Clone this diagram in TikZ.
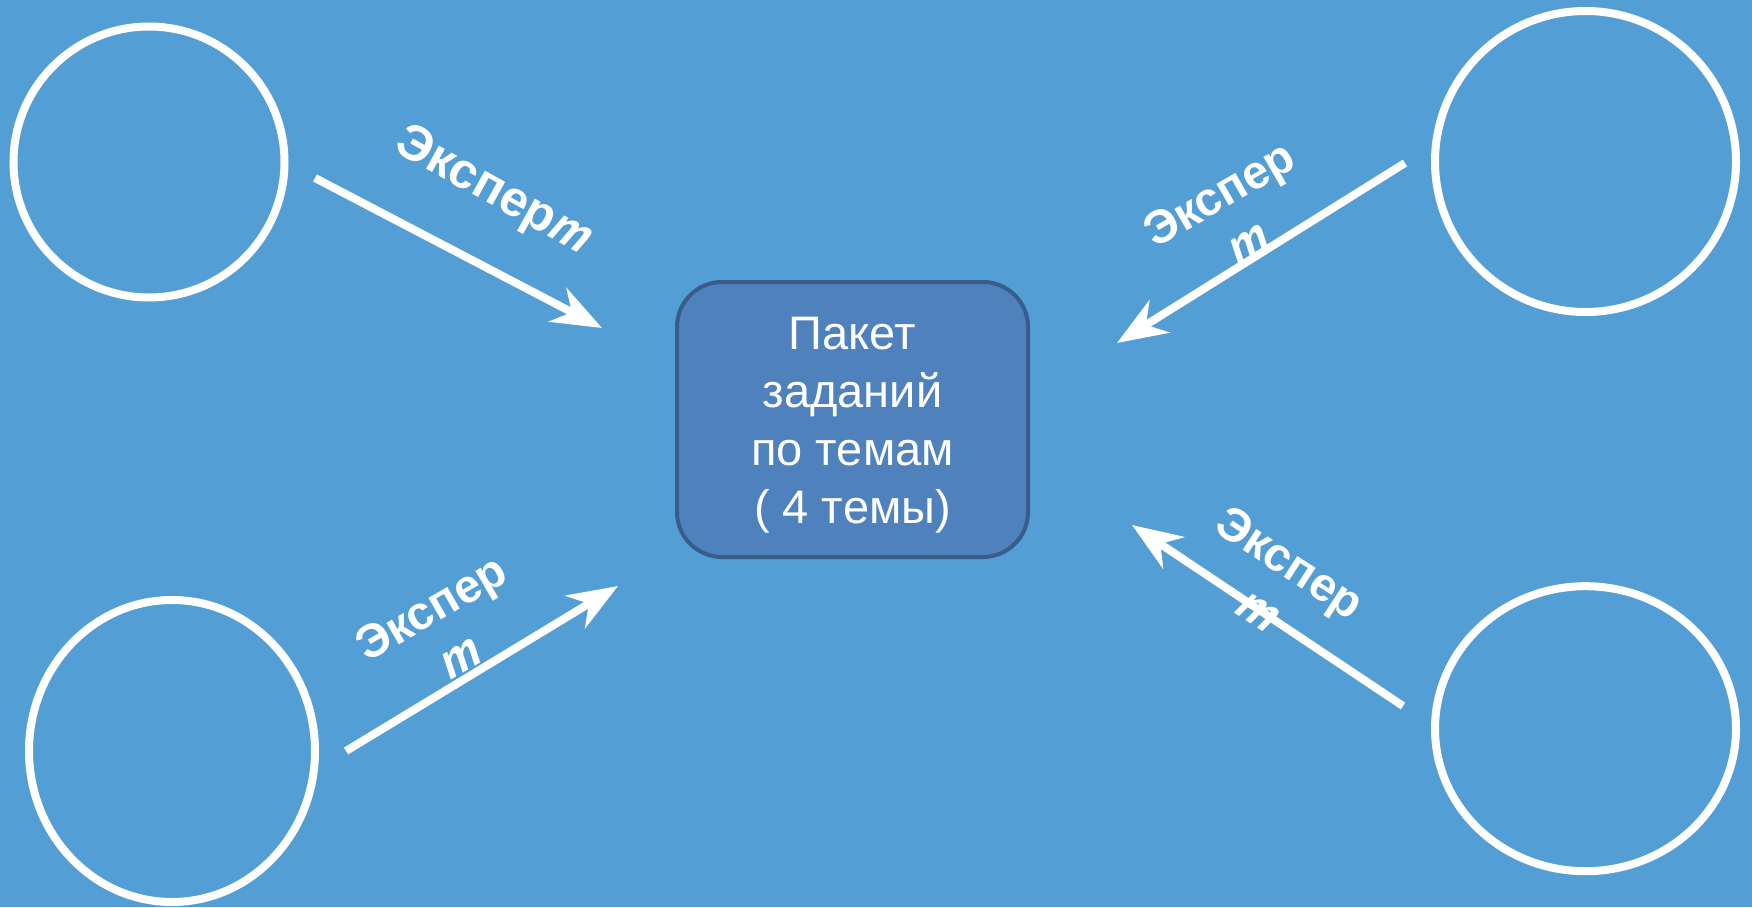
\documentclass[tikz,border=0pt]{standalone}
\usepackage{fontspec}
\setmainfont{Liberation Sans}
\newfontfamily\ptsans{PT Sans}
\usetikzlibrary{arrows.meta,shapes.geometric}
\definecolor{bgblue}{RGB}{83,158,213}
\definecolor{boxfill}{RGB}{79,129,189}
\definecolor{boxline}{RGB}{56,93,138}
\newcommand{\italt}{{\ptsans\bfseries\itshape\fontsize{52pt}{57pt}\selectfont т}}
\tikzset{
  ring/.style={ellipse, draw=white, line width=8pt, inner sep=0pt, outer sep=0pt},
  taskbox/.style={rectangle, rounded corners=45pt, draw=boxline, fill=boxfill, line width=4pt,
    minimum width=351pt, minimum height=275pt, inner sep=0pt},
  boxtext/.style={text=white, align=center, inner sep=0pt,
    font=\fontsize{47pt}{58pt}\selectfont},
  conn/.style={white, line width=8pt, -{Stealth[length=50pt, width=38pt, inset=16pt]}},
  lbl/.style={text=white, align=center, inner sep=0pt, font=\fontsize{47pt}{57pt}\selectfont\bfseries}
}
\begin{document}
\begin{tikzpicture}[x=1pt, y=-1pt]
\fill[bgblue] (0,0) rectangle (1752,907);
\useasboundingbox (0,0) rectangle (1752,907);

\node[ring, minimum width=271pt, minimum height=271pt] (tl) at (149,162) {};
\node[ring, minimum width=286pt, minimum height=302pt] (bl) at (172,751) {};
\node[ring, minimum width=301pt, minimum height=301pt] (tr) at (1585.5,161.5) {};
\node[ring, minimum width=301pt, minimum height=285pt] (br) at (1585.5,728.7) {};

\node[taskbox] (box) at (852.5,419.5) {};
\node[boxtext] (boxt) at (852.5,425) {Пакет\\заданий\\ по темам\\( 4 темы)};

\coordinate (a1s) at (315,178);  \coordinate (a1e) at (602,328);
\coordinate (a2s) at (1405,163); \coordinate (a2e) at (1117,343);
\coordinate (a3s) at (1403,706); \coordinate (a3e) at (1132,525);
\coordinate (a4s) at (346,751);  \coordinate (a4e) at (618,586);

\draw[conn] (a1s) -- (a1e);
\draw[conn] (a2s) -- (a2e);
\draw[conn] (a3s) -- (a3e);
\draw[conn] (a4s) -- (a4e);

\node[lbl, rotate=-29, font=\fontsize{50pt}{57pt}\selectfont\bfseries] (l1) at (493,192) {Экспер\italt};
\node[lbl, rotate=30] (l2) at (1233,218) {Экспер\\\italt};
\node[lbl, rotate=-33] (l3) at (1275,586) {Экспер\\\italt};
\node[lbl, rotate=30] (l4) at (445,632) {Экспер\\\italt};
\end{tikzpicture}
\end{document}
